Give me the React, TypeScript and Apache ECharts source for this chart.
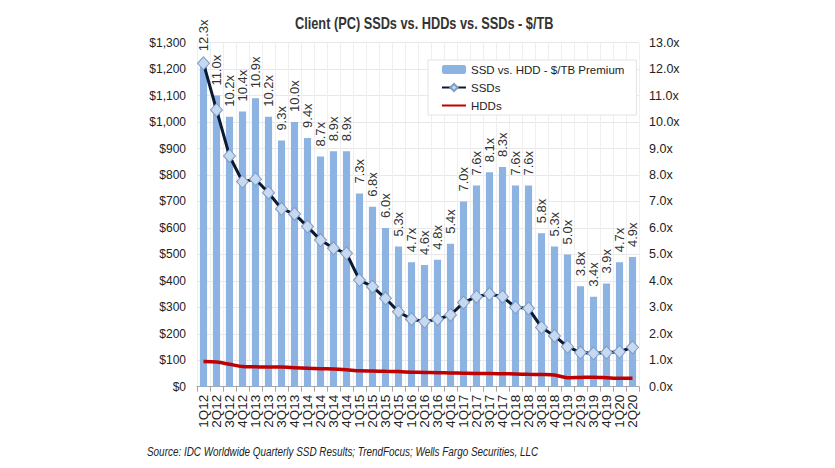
import React, { useEffect, useRef } from "react";
import * as echarts from "echarts";

const categories = [
  "1Q12", "2Q12", "3Q12", "4Q12", "1Q13", "2Q13", "3Q13", "4Q13",
  "1Q14", "2Q14", "3Q14", "4Q14", "1Q15", "2Q15", "3Q15", "4Q15",
  "1Q16", "2Q16", "3Q16", "4Q16", "1Q17", "2Q17", "3Q17", "4Q17",
  "1Q18", "2Q18", "3Q18", "4Q18", "1Q19", "2Q19", "3Q19", "4Q19",
  "1Q20", "2Q20",
];

const premium = [
  12.3, 11.0, 10.2, 10.4, 10.9, 10.2, 9.3, 10.0,
  9.4, 8.7, 8.9, 8.9, 7.3, 6.8, 6.0, 5.3,
  4.7, 4.6, 4.8, 5.4, 7.0, 7.6, 8.1, 8.3,
  7.6, 7.6, 5.8, 5.3, 5.0, 3.8, 3.4, 3.9,
  4.7, 4.9,
];

const ssd = [
  1222, 1046, 872, 775, 784, 733, 672, 653,
  605, 554, 523, 504, 403, 378, 334, 283,
  255, 246, 255, 271, 318, 340, 350, 340,
  300, 296, 224, 192, 151, 129, 126, 129,
  132, 149,
];

const hdd = [
  95, 93, 85, 76, 75, 74, 74, 72,
  70, 68, 67, 64, 60, 59, 58, 57,
  55, 54, 53, 52, 51, 50, 50, 49,
  48, 47, 46, 44, 34, 35, 36, 34,
  32, 32,
];

const leftTicks = { min: 0, max: 1300, interval: 100 };
const rightTicks = { min: 0, max: 13, interval: 1 };

const titleText = "Client (PC) SSDs vs. HDDs vs. SSDs - $/TB";
const sourceText =
  "Source: IDC Worldwide Quarterly SSD Results; TrendFocus; Wells Fargo Securities, LLC";

const ARIAL = "'Liberation Sans', Arial, sans-serif";

export default function App() {
  const ref = useRef<HTMLDivElement>(null);

  useEffect(() => {
    document.body.style.margin = "0";
    if (!ref.current) return;
    const chart = echarts.init(ref.current, null, { renderer: "svg" });
    chart.setOption({
      animation: false,
      backgroundColor: "#ffffff",
      graphic: [
        {
          type: "text",
          x: 295,
          y: 14,
          scaleX: 0.75,
          style: {
            text: titleText,
            fontFamily: ARIAL,
            fontWeight: "bold",
            fontSize: 17,
            fill: "#333333",
          },
        },
        {
          type: "text",
          x: 147,
          y: 444,
          scaleX: 0.735,
          style: {
            text: sourceText,
            fontFamily: ARIAL,
            fontStyle: "italic",
            fontSize: 13.5,
            fill: "#222222",
          },
        },
      ],
      legend: {
        orient: "vertical",
        left: 428,
        top: 60,
        backgroundColor: "#ffffff",
        borderColor: "#e3e3e3",
        borderWidth: 1,
        padding: [3, 12, 3, 13],
        itemGap: 5,
        itemWidth: 24,
        itemHeight: 9,
        textStyle: {
          fontFamily: ARIAL,
          fontSize: 11.5,
          color: "#222222",
          lineHeight: 13,
        },
        data: [
          { name: "SSD vs. HDD - $/TB Premium" },
          { name: "SSDs" },
          { name: "HDDs", itemStyle: { opacity: 0 } },
        ],
      },
      grid: {
        left: 197,
        right: 196,
        top: 42.7,
        bottom: 81.3,
        containLabel: false,
      },
      xAxis: {
        type: "category",
        data: categories,
        boundaryGap: true,
        axisLine: { show: true, lineStyle: { color: "#a6a6a6" } },
        axisTick: { show: true, length: 5, lineStyle: { color: "#a6a6a6" } },
        splitLine: { show: true, lineStyle: { color: "#efefef", width: 1 } },
        axisLabel: {
          rotate: 90,
          interval: 0,
          fontFamily: ARIAL,
          fontSize: 13.5,
          color: "#222222",
          margin: 8,
        },
      },
      yAxis: [
        {
          type: "value",
          ...leftTicks,
          axisLine: { show: false },
          axisTick: { show: false },
          splitLine: { show: true, lineStyle: { color: "#e8e8e8" } },
          axisLabel: {
            fontFamily: ARIAL,
            fontSize: 12,
            color: "#222222",
            margin: 11,
            formatter: (v: number) => "$" + v.toLocaleString("en-US"),
          },
        },
        {
          type: "value",
          ...rightTicks,
          axisLine: { show: false },
          axisTick: { show: false },
          splitLine: { show: false },
          axisLabel: {
            fontFamily: ARIAL,
            fontSize: 12.5,
            color: "#222222",
            margin: 10,
            formatter: (v: number) => v.toFixed(1) + "x",
          },
        },
      ],
      series: [
        {
          name: "SSD vs. HDD - $/TB Premium",
          type: "bar",
          yAxisIndex: 1,
          data: premium,
          barWidth: "55%",
          itemStyle: { color: "#8DB3E2" },
          label: {
            show: true,
            position: "top",
            rotate: 90,
            align: "left",
            verticalAlign: "middle",
            distance: 10,
            fontFamily: ARIAL,
            fontSize: 13,
            color: "#333333",
            formatter: (p: any) => Number(p.value).toFixed(1) + "x",
          },
          z: 1,
        },
        {
          name: "SSDs",
          type: "line",
          yAxisIndex: 0,
          data: ssd,
          symbol: "diamond",
          symbolSize: [12, 13],
          lineStyle: { color: "#0B1A33", width: 3 },
          itemStyle: { color: "#C6D9F0", borderColor: "#7E9CC6", borderWidth: 1 },
          z: 3,
        },
        {
          name: "HDDs",
          type: "line",
          yAxisIndex: 0,
          data: hdd,
          symbol: "none",
          smooth: 0.3,
          lineStyle: { color: "#C00000", width: 3.5 },
          itemStyle: { color: "#C00000" },
          z: 2,
        },
      ],
    });
    return () => chart.dispose();
  }, []);

  return <div ref={ref} style={{ width: 835, height: 468 }} />;
}
